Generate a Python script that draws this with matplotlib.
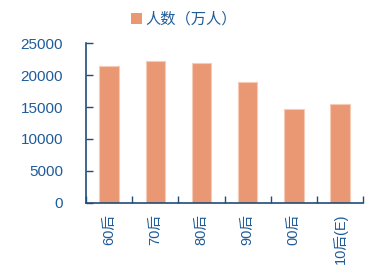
import matplotlib
matplotlib.use("Agg")
import matplotlib.pyplot as plt
from matplotlib.patches import Patch

plt.rcParams['font.family'] = ['Liberation Sans', 'Noto Sans CJK SC', 'DejaVu Sans']

categories = ["60后", "70后", "80后", "90后", "00后", "10后(E)"]
values = [21500, 22300, 22000, 18950, 14700, 15550]
yticks = [0, 5000, 10000, 15000, 20000, 25000]
legend_label = "人数（万人）"

bar_color = "#E99873"
edge_color = "#F5CBB6"
axis_color = "#1F4E79"
text_color = "#1F5C99"

fig = plt.figure(figsize=(3.83, 2.80), dpi=100)
ax = fig.add_axes([0.2245, 0.276, 0.7235, 0.569])

x = list(range(len(categories)))
ax.bar(x, values, width=0.42, color=bar_color, edgecolor=edge_color, linewidth=0.8)

ax.set_xlim(-0.5, len(categories) - 0.5)
ax.set_ylim(0, 25000)
ax.set_yticks(yticks)
ax.set_yticklabels([str(v) for v in yticks], fontsize=11, color=text_color)

ax.set_xticks(x)
ax.set_xticklabels(categories, rotation=90, fontsize=10.5, color=text_color,
                   ha='center', va='top')
ax.set_xticks([i - 0.5 for i in range(len(categories) + 1)], minor=True)
ax.tick_params(axis='x', which='major', length=0, pad=8)
ax.tick_params(axis='x', which='minor', direction='in', length=5, width=1, color=axis_color)
ax.tick_params(axis='y', which='major', direction='in', length=5, width=1, color=axis_color, pad=16.5)

for s in ['top', 'right']:
    ax.spines[s].set_visible(False)
for s in ['left', 'bottom']:
    ax.spines[s].set_color(axis_color)
    ax.spines[s].set_linewidth(1.2)

handle = Patch(facecolor=bar_color, edgecolor='none')
fig.legend([handle], [legend_label], loc='center', bbox_to_anchor=(0.48, 0.93),
           frameon=False, fontsize=11, handlelength=0.75, handleheight=0.75,
           handletextpad=0.2, labelcolor=text_color)

fig.savefig("out.png", dpi=100)
